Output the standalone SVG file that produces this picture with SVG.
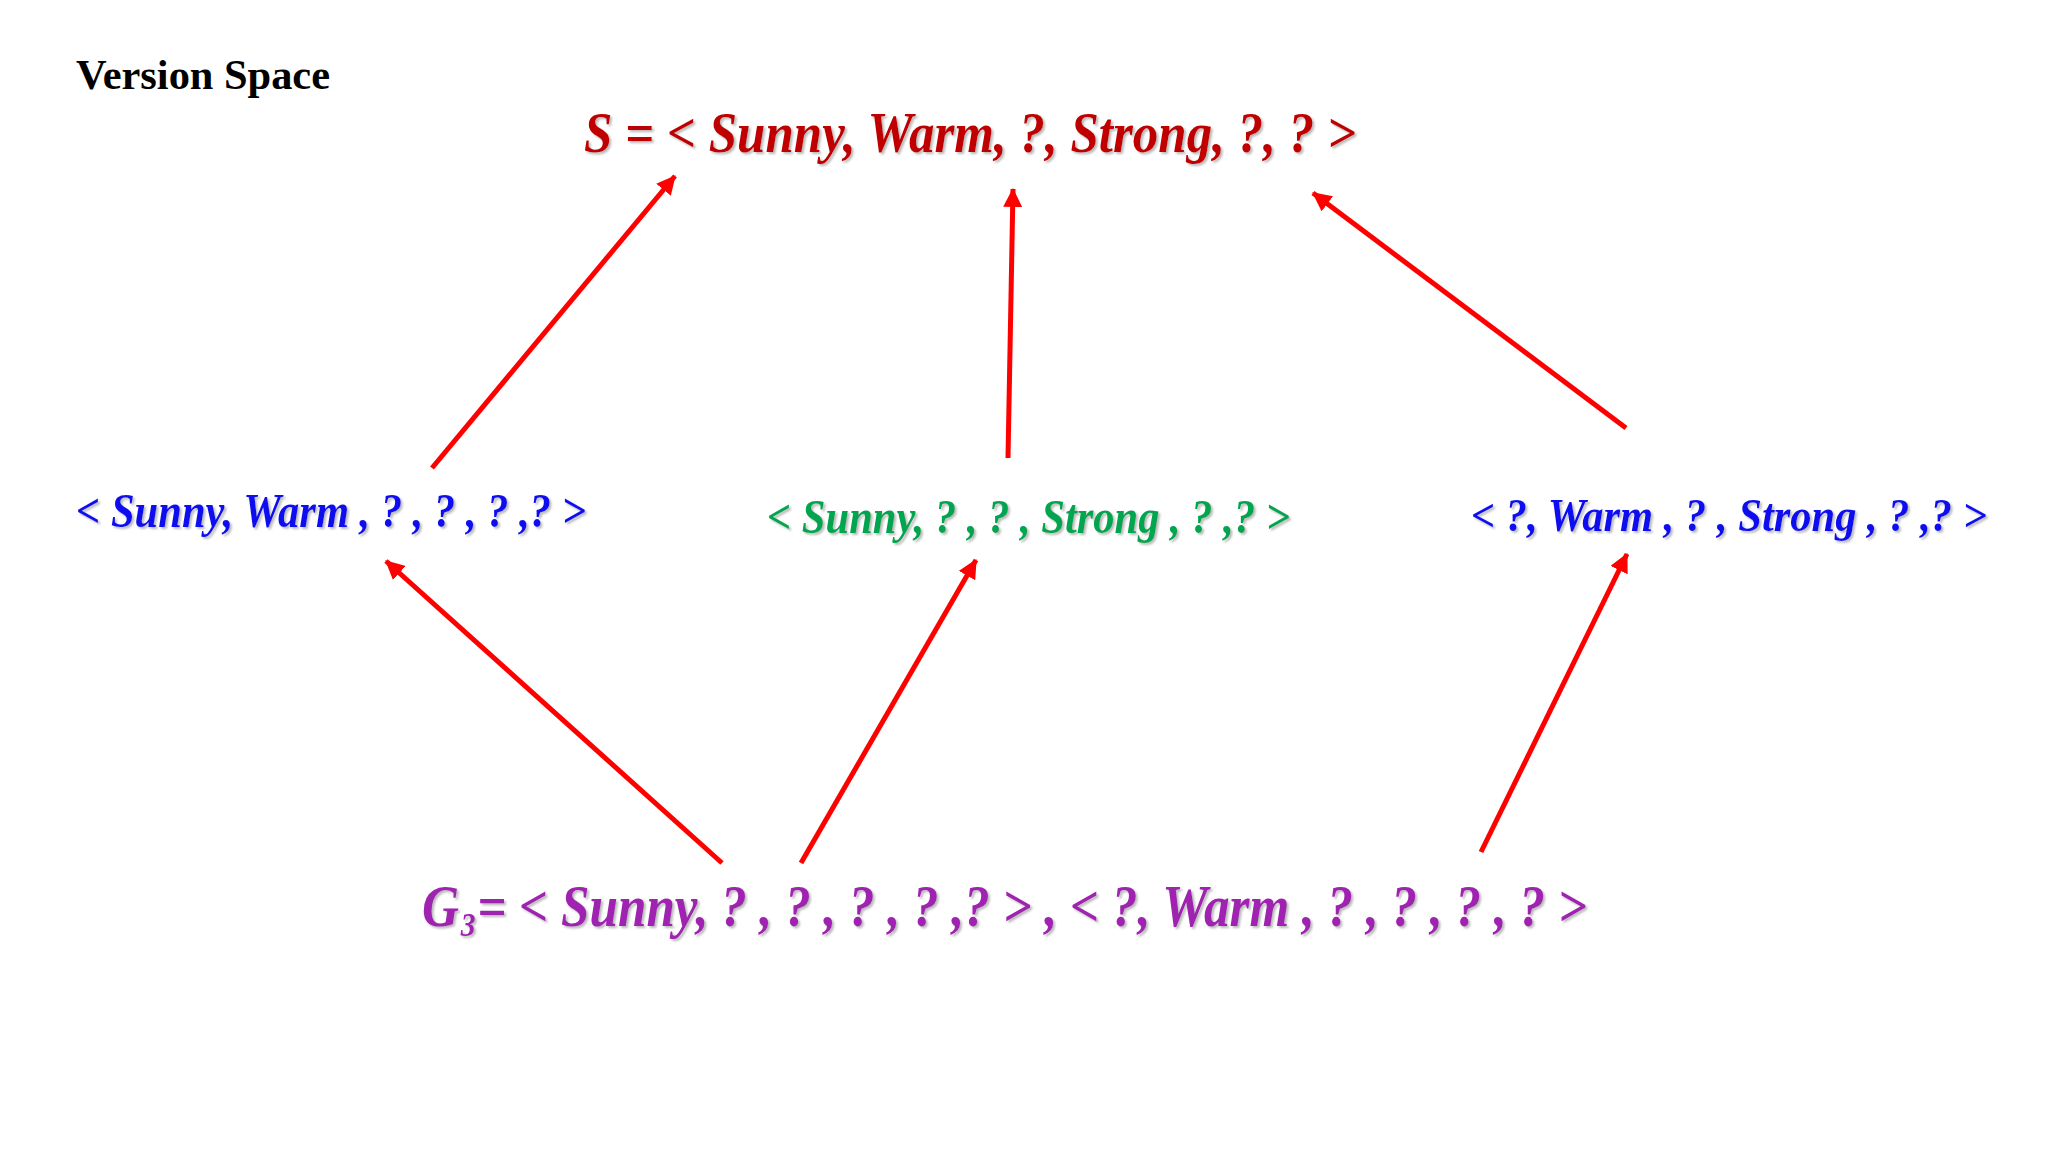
<svg xmlns="http://www.w3.org/2000/svg" width="2048" height="1152" viewBox="0 0 2048 1152">
<defs>
<style>
.t{font-family:"Liberation Serif","Times New Roman",serif;font-weight:bold;font-style:italic;filter:url(#sh)}
.title{font-family:"Liberation Serif","Times New Roman",serif;font-weight:bold;font-size:42px;fill:#000}
.arr{stroke:#FF0000;stroke-width:5;fill:none;marker-end:url(#ah)}
</style>
<filter id="sh" x="-5%" y="-20%" width="110%" height="150%">
<feDropShadow dx="2" dy="2" stdDeviation="1.2" flood-color="#808080" flood-opacity="0.55"/>
</filter>
<marker id="ah" markerUnits="userSpaceOnUse" viewBox="0 0 18 18" refX="17" refY="9" markerWidth="19" markerHeight="19" orient="auto">
<path d="M0,0 L18,9 L0,18 Z" fill="#FF0000"/>
</marker>
</defs>
<rect width="2048" height="1152" fill="#FFFFFF"/>
<g id="title"><text class="title" x="76" y="89" textLength="254" lengthAdjust="spacingAndGlyphs">Version Space</text></g>
<g id="connectors">
<line class="arr" x1="432" y1="468" x2="675" y2="176"/>
<line class="arr" x1="1008" y1="458" x2="1013" y2="189"/>
<line class="arr" x1="1626" y1="428" x2="1313" y2="193"/>
<line class="arr" x1="722" y1="863" x2="386" y2="561"/>
<line class="arr" x1="801" y1="863" x2="976" y2="560"/>
<line class="arr" x1="1481" y1="852" x2="1627" y2="554"/>
</g>
<g id="node-S"><text class="t" x="584" y="152" font-size="57" fill="#C00000" textLength="772" lengthAdjust="spacingAndGlyphs">S = &lt; Sunny, Warm, ?, Strong, ?, ? &gt;</text></g>
<g id="node-left"><text class="t" x="76" y="527" font-size="48" fill="#1010F0" textLength="510" lengthAdjust="spacingAndGlyphs">&lt; Sunny, Warm , ? , ? , ? ,? &gt;</text></g>
<g id="node-mid"><text class="t" x="767" y="533" font-size="48" fill="#00A650" textLength="523" lengthAdjust="spacingAndGlyphs">&lt; Sunny, ? , ? , Strong , ? ,? &gt;</text></g>
<g id="node-right"><text class="t" x="1471" y="531" font-size="46" fill="#1010F0" textLength="516" lengthAdjust="spacingAndGlyphs">&lt; ?, Warm , ? , Strong , ? ,? &gt;</text></g>
<g id="node-G"><text class="t" x="422" y="926" font-size="59" fill="#A020B0" textLength="1165" lengthAdjust="spacingAndGlyphs">G<tspan font-size="34" dx="2" dy="10">3</tspan><tspan dx="2" dy="-10">= &lt; Sunny, ? , ? , ? , ? ,? &gt; , &lt; ?, Warm , ? , ? , ? , ? &gt;</tspan></text></g>
</svg>
